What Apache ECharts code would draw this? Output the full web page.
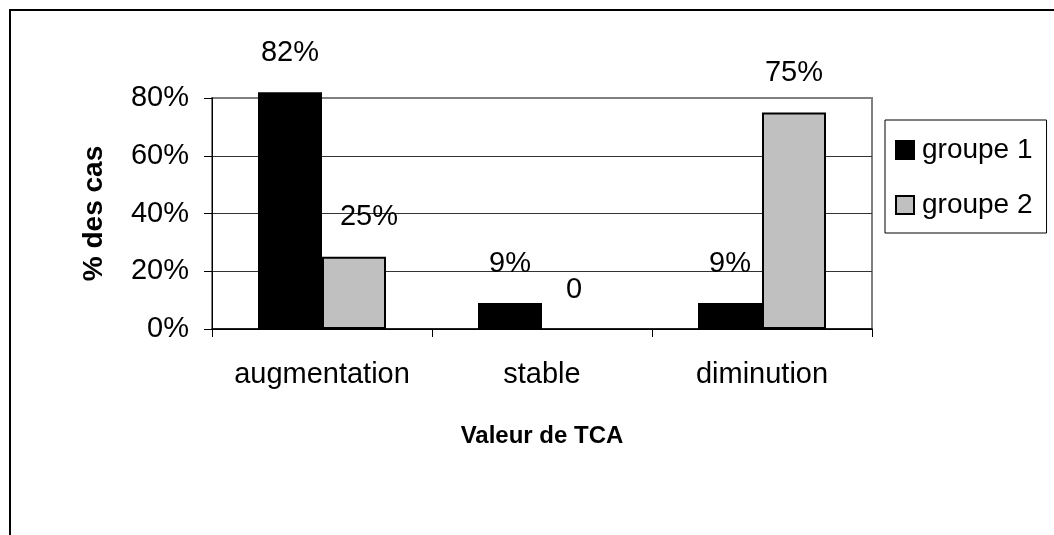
<!DOCTYPE html>
<html>
<head>
<meta charset="utf-8">
<script src="https://cdn.jsdelivr.net/npm/echarts@6/dist/echarts.min.js"></script>
<style>
html,body{margin:0;padding:0;background:#fff;}
#chart{width:1054px;height:535px;}
</style>
</head>
<body>
<div id="chart"></div>
<script>
const categories = ['augmentation', 'stable', 'diminution'];
const seriesNames = ['groupe 1', 'groupe 2'];
const groupe1 = [82, 9, 9];
const groupe2 = [25, 0, 75];
const labels1 = ['82%', '9%', '9%'];
const labels2 = ['25%', '0', '75%'];
const yTicks = [0, 20, 40, 60, 80];

const FONT = '"Liberation Sans", Arial, sans-serif';
const chart = echarts.init(document.getElementById('chart'), null, {renderer: 'canvas'});

function mkLabel(texts) {
  return {
    show: true,
    position: 'top',
    distance: 25,
    fontFamily: FONT,
    fontSize: 29,
    color: '#000',
    formatter: p => texts[p.dataIndex]
  };
}
// zero-height bars show no outline
const toItems = vals => vals.map(v => v === 0 ? {value: v, itemStyle: {borderWidth: 0}} : v);

const option = {
  animation: false,
  backgroundColor: '#fff',
  textStyle: {fontFamily: FONT},
  graphic: [{
    type: 'rect',
    shape: {x: 10, y: 10, width: 1100, height: 600},
    style: {fill: 'none', stroke: '#000', lineWidth: 2},
    silent: true, z: 0
  }],
  grid: {
    left: 212, top: 98, right: 182, bottom: 206,
    show: true, borderColor: '#808080', borderWidth: 2, backgroundColor: 'transparent'
  },
  legend: {
    orient: 'vertical',
    left: 885, top: 120,
    padding: [16, 14, 14, 10],
    itemGap: 27,
    itemWidth: 18, itemHeight: 18,
    borderColor: '#000', borderWidth: 1, backgroundColor: '#fff',
    textStyle: {fontFamily: FONT, fontSize: 28, color: '#000', padding: [0, 0, 0, 3]},
    data: seriesNames.map(n => ({name: n, icon: 'rect'}))
  },
  xAxis: {
    type: 'category',
    data: categories,
    name: 'Valeur de TCA',
    nameLocation: 'middle',
    nameGap: 95,
    nameTextStyle: {fontFamily: FONT, fontSize: 24, fontWeight: 'bold', color: '#000'},
    axisLine: {lineStyle: {color: '#000', width: 1.5}},
    axisTick: {show: true, interval: 0, length: 8, lineStyle: {color: '#000'}},
    axisLabel: {interval: 0, hideOverlap: false, fontFamily: FONT, fontSize: 29, color: '#000', margin: 31},
    splitLine: {show: false}
  },
  yAxis: {
    type: 'value',
    min: yTicks[0], max: yTicks[yTicks.length - 1], interval: 20,
    name: '% des cas',
    nameLocation: 'middle',
    nameGap: 104,
    nameRotate: 90,
    nameTextStyle: {fontFamily: FONT, fontSize: 28, fontWeight: 'bold', color: '#000'},
    axisLine: {show: true, lineStyle: {color: '#000', width: 1}},
    axisTick: {show: true, length: 8, lineStyle: {color: '#000'}},
    axisLabel: {fontFamily: FONT, fontSize: 29, color: '#000', margin: 23, formatter: v => v + '%'},
    splitLine: {show: true, lineStyle: {color: ['#000', '#333', '#333', '#333', '#808080'], width: 1}}
  },
  series: [
    {
      name: seriesNames[0], type: 'bar', data: toItems(groupe1), clip: false,
      barWidth: 64, barGap: '0%',
      itemStyle: {color: '#000', borderColor: '#000', borderWidth: 2},
      label: mkLabel(labels1)
    },
    {
      name: seriesNames[1], type: 'bar', data: toItems(groupe2), clip: false,
      barWidth: 64, barGap: '0%',
      itemStyle: {color: '#c0c0c0', borderColor: '#000', borderWidth: 2},
      label: mkLabel(labels2),
      labelLayout: p => p.dataIndex === 0 ? {dx: 15} : {}
    }
  ]
};
chart.setOption(option);
</script>
</body>
</html>
